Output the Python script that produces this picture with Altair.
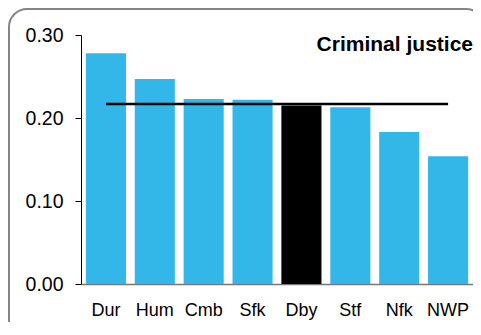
import altair as alt
import pandas as pd

areas = ["Dur", "Hum", "Cmb", "Sfk", "Dby", "Stf", "Nfk", "NWP"]
values = [0.278, 0.247, 0.223, 0.222, 0.215, 0.213, 0.183, 0.154]
highlight = "Dby"
average = 0.217
title_text = "Criminal justice"

df = pd.DataFrame({"area": areas, "value": values})
df["is_hl"] = df["area"] == highlight

FONT = "Liberation Sans"

x_scale = alt.Scale(domain=areas, paddingInner=0.18, paddingOuter=0.1)

x_enc = alt.X(
    "area:N",
    scale=x_scale,
    axis=alt.Axis(
        title=None, labelAngle=0, ticks=False, labelPadding=17,
        labelFontSize=18, labelFont=FONT, labelColor="black",
        domainColor="#777777", domainWidth=1.5,
    ),
)
y_enc = alt.Y(
    "value:Q",
    scale=alt.Scale(domain=[0, 0.30], nice=False),
    axis=alt.Axis(
        title=None, values=[0, 0.1, 0.2, 0.3], format=".2f", grid=False,
        tickSize=6, tickColor="black", domainColor="black", domainWidth=1,
        labelFontSize=19.5, labelFont=FONT, labelColor="black", labelPadding=12,
    ),
)

bars = alt.Chart(df).mark_bar().encode(
    x=x_enc,
    y=y_enc,
    color=alt.Color(
        "is_hl:N",
        scale=alt.Scale(domain=[False, True], range=["#33B7E8", "#000000"]),
        legend=None,
    ),
)

avg_line = alt.Chart(pd.DataFrame({"a": [areas[0]], "b": [areas[-1]], "v": [average]})).mark_rule(
    color="black", strokeWidth=2.5
).encode(
    x=alt.X("a:N", scale=x_scale),
    x2="b:N",
    y="v:Q",
)

title = alt.Chart(alt.Data(values=[{"t": title_text}])).mark_text(
    text=title_text, font=FONT, fontSize=21, fontWeight="bold",
    align="right", baseline="alphabetic", color="black",
).encode(x=alt.value(392), y=alt.value(16))

border = alt.Chart(alt.Data(values=[{"b": 1}])).mark_rect(
    filled=False, stroke="#858585", strokeWidth=2, cornerRadius=18,
).encode(
    x=alt.value(-72), x2=alt.value(403), y=alt.value(-26), y2=alt.value(302)
)

chart = alt.layer(border, bars, avg_line, title).properties(
    width=392,
    height=249,
    autosize=alt.AutoSizeParams(type="none"),
    padding={"left": 73, "top": 27, "right": 0, "bottom": 38},
    background="white",
).configure_view(stroke=None)

chart.save("out.html", embed_options={"renderer": "svg", "actions": False})
